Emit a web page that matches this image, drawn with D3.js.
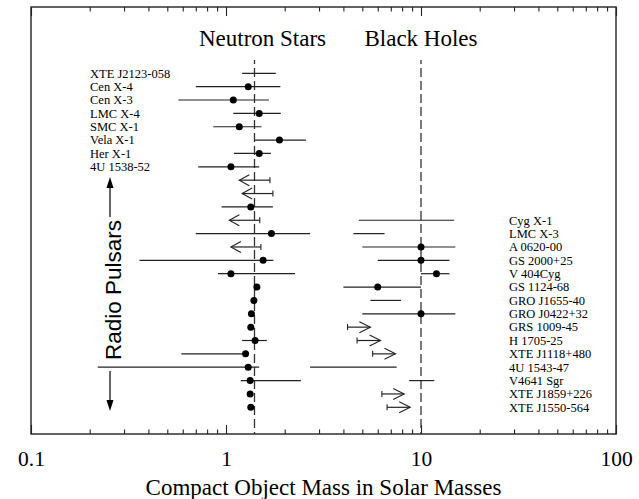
<!DOCTYPE html>
<html><head><meta charset="utf-8">
<script src="https://cdn.jsdelivr.net/npm/d3@7"></script>
<style>html,body{margin:0;padding:0;background:#fff;}svg{display:block;}</style>
</head><body>
<script>
// ---- data ----
const nsLabels = ["XTE J2123-058","Cen X-4","Cen X-3","LMC X-4","SMC X-1","Vela X-1","Her X-1","4U 1538-52"];
const nsMass = [null,1.30,1.09,1.48,1.17,1.88,1.48,1.06, null,null,1.34,null,1.71,null,1.55,1.06,1.44,1.39,1.35,1.34,1.41,1.26,1.30,1.33,1.33,1.34];
const nsLow  = [1.21,0.70,0.57,1.09,0.86,1.41,1.10,0.72, 1.17,1.21,0.95,1.04,0.70,1.06,0.36,0.91,null,null,null,null,1.21,0.59,0.22,1.19,null,null];
const nsHigh = [1.80,1.90,1.66,1.91,1.52,2.57,1.70,1.48, 1.68,1.74,1.74,1.49,2.70,1.51,1.75,2.26,null,null,null,null,1.62,1.30,1.48,2.42,null,null];
const nsKind = ["bar","bar","bar","bar","bar","bar","bar","bar","limit","limit","bar","limit","bar","limit","bar","bar","bar","bar","bar","bar","bar","bar","bar","bar","bar","bar"];

const bhLabels = ["Cyg X-1","LMC X-3","A 0620-00","GS 2000+25","V 404Cyg","GS 1124-68","GRO J1655-40","GRO J0422+32","GRS 1009-45","H 1705-25","XTE J1118+480","4U 1543-47","V4641 Sgr","XTE J1859+226","XTE J1550-564"];
const bhMass = [null,null,10,10,12,6.0,null,10,null,null,null,null,null,null,null];
const bhLow  = [4.8,4.5,5.0,6.0,10,4.0,5.5,5.0,4.2,4.7,5.65,2.7,8.7,6.3,6.7];
const bhHigh = [14.8,6.5,15,14,14,10,7.9,15,5.5,6.2,7.4,7.5,11.7,8.2,8.8];
const bhKind = ["bar","bar","bar","bar","bar","bar","bar","bar","limit","limit","limit","bar","bar","limit","limit"];
const bhFirstRow = 11;

const refMasses = [1.4, 10];
const groupTitles = ["Neutron Stars","Black Holes"];
const majorTicks = [0.1,1,10,100];
const xTitle = "Compact Object Mass in Solar Masses";
const sideLabel = "Radio Pulsars";

// ---- drawing ----
const W = 639, H = 499;
const svg = d3.select("body").append("svg").attr("width",W).attr("height",H);
svg.append("rect").attr("width",W).attr("height",H).attr("fill","#fff");

const L = 31, R = 616, T = 7, B = 434;
const x = d3.scaleLog().domain([0.1,100]).range([L,R]);
const y = d3.scaleLinear().domain([0,25]).range([73.3,407.3]);
const serif = "'Liberation Serif','Times New Roman',serif";
const sans = "'Liberation Sans',Arial,sans-serif";
const ink = "#222";

// frame
svg.append("rect").attr("x",L).attr("y",T).attr("width",R-L).attr("height",B-T)
  .attr("fill","none").attr("stroke","#222").attr("stroke-width",1.4);

// ticks
const minor = [];
for (let d=0.1; d<100; d*=10) for (let k=2;k<=9;k++) minor.push(+(d*k).toPrecision(3));
const gB = svg.append("g").attr("transform",`translate(0,${B})`);
gB.call(d3.axisBottom(x).tickValues(minor).tickSize(-4.5).tickFormat(""));
const gB2 = svg.append("g").attr("transform",`translate(0,${B})`);
gB2.call(d3.axisBottom(x).tickValues(majorTicks).tickSize(-9).tickPadding(17).tickFormat(d=>String(d)));
const gT = svg.append("g").attr("transform",`translate(0,${T})`);
gT.call(d3.axisTop(x).tickValues(minor).tickSize(-4.5).tickFormat(""));
const gT2 = svg.append("g").attr("transform",`translate(0,${T})`);
gT2.call(d3.axisTop(x).tickValues(majorTicks).tickSize(-9).tickFormat(""));
svg.selectAll(".domain").remove();
svg.selectAll(".tick line").attr("stroke","#222").attr("stroke-width",1.1);
gB2.selectAll(".tick text").attr("font-family",serif).attr("font-size",21.5).attr("fill","#000");

svg.append("text").attr("x",(L+R)/2).attr("y",495).attr("text-anchor","middle")
  .attr("font-family",serif).attr("font-size",23).attr("fill","#000").text(xTitle);

// reference dashed lines
svg.selectAll("line.ref").data(refMasses).join("line").attr("class","ref")
  .attr("x1",d=>x(d)).attr("x2",d=>x(d)).attr("y1",60).attr("y2",B)
  .attr("stroke","#333").attr("stroke-width",1.3).attr("stroke-dasharray","9,4").attr("stroke-dashoffset",5);

// group titles
svg.selectAll("text.gt").data(groupTitles).join("text").attr("class","gt")
  .attr("x",(d,i)=>i===0?x(1.4)+8:x(10)).attr("y",45.5).attr("text-anchor","middle")
  .attr("font-family",serif).attr("font-size",23).attr("fill","#000").text(d=>d);

// labels
svg.selectAll("text.nsl").data(nsLabels).join("text").attr("class","nsl")
  .attr("x",90).attr("y",(d,i)=>y(i)+4.3).attr("font-family",serif).attr("font-size",12.5).attr("fill","#000").text(d=>d);
svg.selectAll("text.bhl").data(bhLabels).join("text").attr("class","bhl")
  .attr("x",509).attr("y",(d,i)=>y(i+bhFirstRow)+4.3).attr("font-family",serif).attr("font-size",12.5).attr("fill","#000").text(d=>d);

// ---- neutron star marks ----
const ns = nsMass.map((m,i)=>({m,lo:nsLow[i],hi:nsHigh[i],kind:nsKind[i],row:i}));
const gN = svg.append("g");
ns.forEach(d=>{
  const yy = y(d.row);
  if (d.lo!=null && d.hi!=null) {
    gN.append("line").attr("x1",x(d.lo)).attr("x2",x(d.hi)).attr("y1",yy).attr("y2",yy)
      .attr("stroke",ink).attr("stroke-width",1.2);
  }
  if (d.kind==="limit") {
    const xt = x(d.lo), xc = x(d.hi);
    gN.append("path").attr("d",`M${xt+10},${yy-5.5}L${xt},${yy}L${xt+10},${yy+5.5}`)
      .attr("fill","none").attr("stroke",ink).attr("stroke-width",1.1);
    gN.append("line").attr("x1",xc).attr("x2",xc).attr("y1",yy-3).attr("y2",yy+3)
      .attr("stroke",ink).attr("stroke-width",1.1);
  }
  if (d.m!=null) gN.append("circle").attr("cx",x(d.m)).attr("cy",yy).attr("r",3.5).attr("fill","#000");
});

// ---- black hole marks ----
const bh = bhMass.map((m,i)=>({m,lo:bhLow[i],hi:bhHigh[i],kind:bhKind[i],row:i+bhFirstRow}));
const gH = svg.append("g");
bh.forEach(d=>{
  const yy = y(d.row);
  gH.append("line").attr("x1",x(d.lo)).attr("x2",x(d.hi)).attr("y1",yy).attr("y2",yy)
    .attr("stroke",ink).attr("stroke-width",1.2);
  if (d.kind==="limit") {
    const xc = x(d.lo), xt = x(d.hi);
    gH.append("path").attr("d",`M${xt-11},${yy-5.5}L${xt},${yy}L${xt-11},${yy+5.5}`)
      .attr("fill","none").attr("stroke",ink).attr("stroke-width",1.1);
    gH.append("line").attr("x1",xc).attr("x2",xc).attr("y1",yy-3).attr("y2",yy+3)
      .attr("stroke",ink).attr("stroke-width",1.1);
  }
  if (d.m!=null) gH.append("circle").attr("cx",x(d.m)).attr("cy",yy).attr("r",3.5).attr("fill","#000");
});

// ---- Radio Pulsars side label with arrows ----
svg.append("text").attr("transform","translate(121,290) rotate(-90)").attr("text-anchor","middle")
  .attr("font-family",sans).attr("font-size",22.5).attr("fill","#000").text(sideLabel);
const ax = 110;
svg.append("line").attr("x1",ax).attr("x2",ax).attr("y1",217).attr("y2",186).attr("stroke","#000").attr("stroke-width",1.2);
svg.append("path").attr("d",`M${ax},177L${ax-3.5},188L${ax+3.5},188Z`).attr("fill","#000");
svg.append("line").attr("x1",ax).attr("x2",ax).attr("y1",371).attr("y2",401).attr("stroke","#000").attr("stroke-width",1.2);
svg.append("path").attr("d",`M${ax},411L${ax-3.5},400L${ax+3.5},400Z`).attr("fill","#000");
</script>
</body></html>
